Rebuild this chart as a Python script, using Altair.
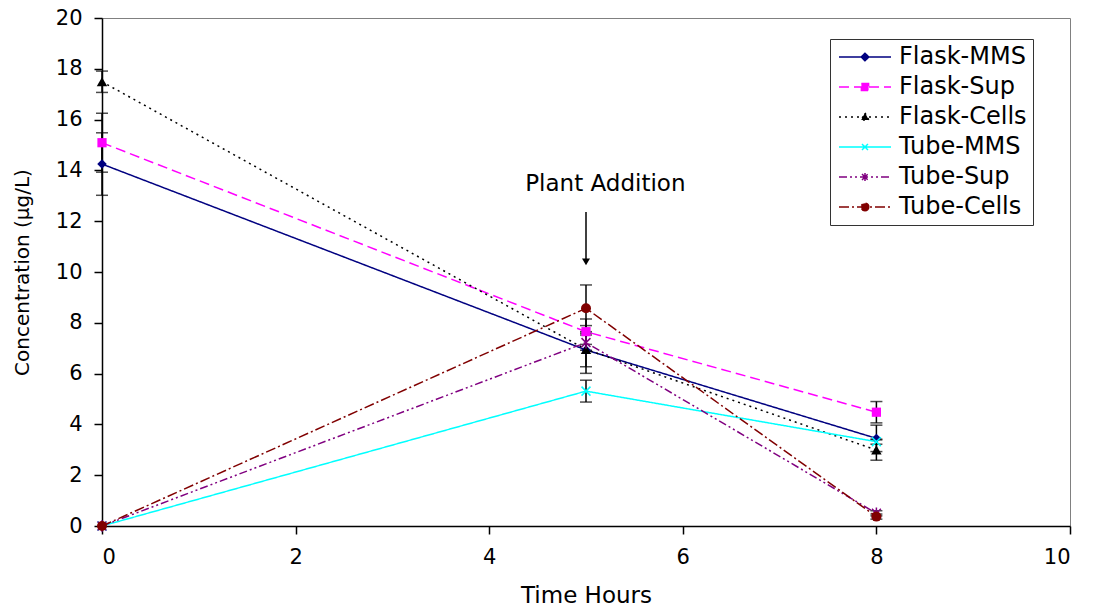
import altair as alt
import pandas as pd

series = ["Flask-MMS", "Flask-Sup", "Flask-Cells", "Tube-MMS", "Tube-Sup", "Tube-Cells"]
hours = [0, 5, 8]
flask_mms = [14.25, 6.93, 3.45]
flask_sup = [15.09, 7.65, 4.48]
flask_cells = [17.49, 6.95, 2.99]
tube_mms = [0.0, 5.31, 3.32]
tube_sup = [0.0, 7.22, 0.5]
tube_cells = [0.0, 8.57, 0.37]

err_flask_mms = [1.23, 0.66, 0.52]
err_flask_sup = [1.16, 0.5, 0.42]
err_flask_cells = [0.42, 0.94, 0.4]
err_tube_mms = [0.0, 0.43, 0.1]
err_tube_sup = [0.0, 0.3, 0.1]
err_tube_cells = [0.0, 0.92, 0.1]

colors = ["#000080", "#FF00FF", "#000000", "#00FFFF", "#800080", "#800000"]
dashes = [[1, 0], [10, 5], [2, 4], [1, 0], [8, 3, 2, 3, 2, 3], [10, 3, 2, 3]]
marker_shapes = ["diamond", "square", "triangle-up",
                 "M-1,-1L1,1M-1,1L1,-1",
                 "M-1,-1L1,1M-1,1L1,-1M0,-1.3V1.3",
                 "circle"]
marker_filled = [True, True, True, False, False, True]
marker_sizes = [90, 85, 110, 80, 80, 100]
legend_paths = [
    "M-2.6,0H2.6M0,-0.38L0.38,0L0,0.38L-0.38,0Z",
    "M-2.6,0H2.6M-0.36,-0.36H0.36V0.36H-0.36Z",
    "M-2.6,0H2.6M0,-0.42L0.38,0.3H-0.38Z",
    "M-2.6,0H2.6M-0.3,-0.3L0.3,0.3M-0.3,0.3L0.3,-0.3",
    "M-2.6,0H2.6M-0.3,-0.3L0.3,0.3M-0.3,0.3L0.3,-0.3M0,-0.4V0.4",
    "M-2.6,0H2.6M0.38,0A0.38,0.38,0,1,1,-0.38,0A0.38,0.38,0,1,1,0.38,0Z",
]

annot_x = [5.2]
annot_y = [13.45]
annot_text = ["Plant Addition"]
arrow_x = [5.0]
arrow_top = [12.36]
arrow_bottom = [10.5]
arrow_head = [10.4]

vals = [flask_mms, flask_sup, flask_cells, tube_mms, tube_sup, tube_cells]
errs = [err_flask_mms, err_flask_sup, err_flask_cells, err_tube_mms, err_tube_sup, err_tube_cells]
rows = []
for s, v, e in zip(series, vals, errs):
    for h, vi, ei in zip(hours, v, e):
        rows.append({"series": s, "hours": h, "value": vi, "err": ei})
df = pd.DataFrame(rows)

FONT = "DejaVu Sans"
xscale = alt.Scale(domain=[0, 10], nice=False, zero=False)
yscale = alt.Scale(domain=[0, 20], nice=False)
xaxis = alt.Axis(values=[0, 2, 4, 6, 8, 10], title="Time Hours", grid=False,
                 labelFontSize=21, titleFontSize=23, labelPadding=12,
                 titleFontWeight="normal", titleY=69, titleBaseline="middle")
yaxis = alt.Axis(values=list(range(0, 21, 2)), title="Concentration (µg/L)", grid=False,
                 labelFontSize=21, titleFontSize=20, labelPadding=12,
                 titleFontWeight="normal", titleX=-80, titleBaseline="middle")


def X(f):
    return alt.X(f, scale=xscale, axis=xaxis)


def Y(f):
    return alt.Y(f, scale=yscale, axis=yaxis)


leg = alt.Legend(title=None, orient="none", legendX=728, legendY=21,
                 labelFont=FONT, labelFontSize=24, labelColor="black",
                 symbolSize=400, symbolStrokeWidth=1.5,
                 strokeColor="#333333", fillColor="white",
                 padding=6, rowPadding=6, symbolOffset=17, labelOffset=22)

stroke_enc = alt.Stroke("series:N", scale=alt.Scale(domain=series, range=colors), legend=leg)
dash_enc = alt.StrokeDash("series:N", scale=alt.Scale(domain=series, range=dashes), legend=leg)

base = alt.Chart(df)

errdata = base.transform_filter("datum.err > 0").transform_calculate(
    lo="datum.value - datum.err", hi="datum.value + datum.err")

err_rule = errdata.mark_rule(color="black", strokeWidth=1.5).encode(
    x=X("hours:Q"), y=Y("lo:Q"), y2="hi:Q", detail="series:N")

err_caps = errdata.transform_fold(["lo", "hi"], as_=["cap_k", "cap_v"]).mark_tick(
    color="black", orient="horizontal", size=12, thickness=1.5).encode(
    x=X("hours:Q"), y=Y("cap_v:Q"))

lines = base.mark_line(strokeWidth=1.5).encode(
    x=X("hours:Q"), y=Y("value:Q"),
    stroke=stroke_enc, strokeDash=dash_enc, detail="series:N")

marker_layers = []
for s, c, shp, filled, sz in zip(series, colors, marker_shapes, marker_filled, marker_sizes):
    marker_layers.append(
        base.transform_filter(alt.datum.series == s).mark_point(
            shape=shp, filled=filled, color=c, size=sz, opacity=1, strokeWidth=1.5
        ).encode(x=X("hours:Q"), y=Y("value:Q"))
    )

legend_layer = base.mark_point(
    filled=True, opacity=1, strokeWidth=1.5, clip=True).encode(
    x=alt.value(-500), y=alt.value(-500),
    shape=alt.Shape("series:N", scale=alt.Scale(domain=series, range=legend_paths), legend=leg),
    fill=alt.Fill("series:N", scale=alt.Scale(domain=series, range=colors), legend=leg),
    stroke=stroke_enc, strokeDash=dash_enc,
)

annot = alt.Chart(pd.DataFrame({"x": annot_x, "y": annot_y, "t": annot_text})).mark_text(
    font=FONT, fontSize=23, align="center", baseline="middle", color="black").encode(
    x=X("x:Q"), y=Y("y:Q"), text="t:N")

arrow = alt.Chart(pd.DataFrame({"x": arrow_x, "y": arrow_top, "y2": arrow_bottom})).mark_rule(
    color="black", strokeWidth=1.5).encode(x=X("x:Q"), y=Y("y:Q"), y2="y2:Q")

head = alt.Chart(pd.DataFrame({"x": arrow_x, "y": arrow_head})).mark_point(
    shape="triangle-down", filled=True, color="black", size=64, opacity=1).encode(
    x=X("x:Q"), y=Y("y:Q"))

chart = alt.layer(err_rule, err_caps, lines, *marker_layers, legend_layer, annot, arrow, head).properties(
    width=968, height=508,
    autosize=alt.AutoSizeParams(type="none"),
    padding={"left": 102, "top": 18, "right": 24, "bottom": 83},
    background="white",
).configure_view(stroke="#808080", strokeWidth=1).configure_axis(
    domainColor="black", domainWidth=1.5, tickColor="black", tickWidth=1.5, tickSize=8,
    labelFont=FONT, titleFont=FONT, labelColor="black", titleColor="black",
).configure_text(font=FONT)

chart.save("out.html", embed_options={"renderer": "svg", "actions": False})
